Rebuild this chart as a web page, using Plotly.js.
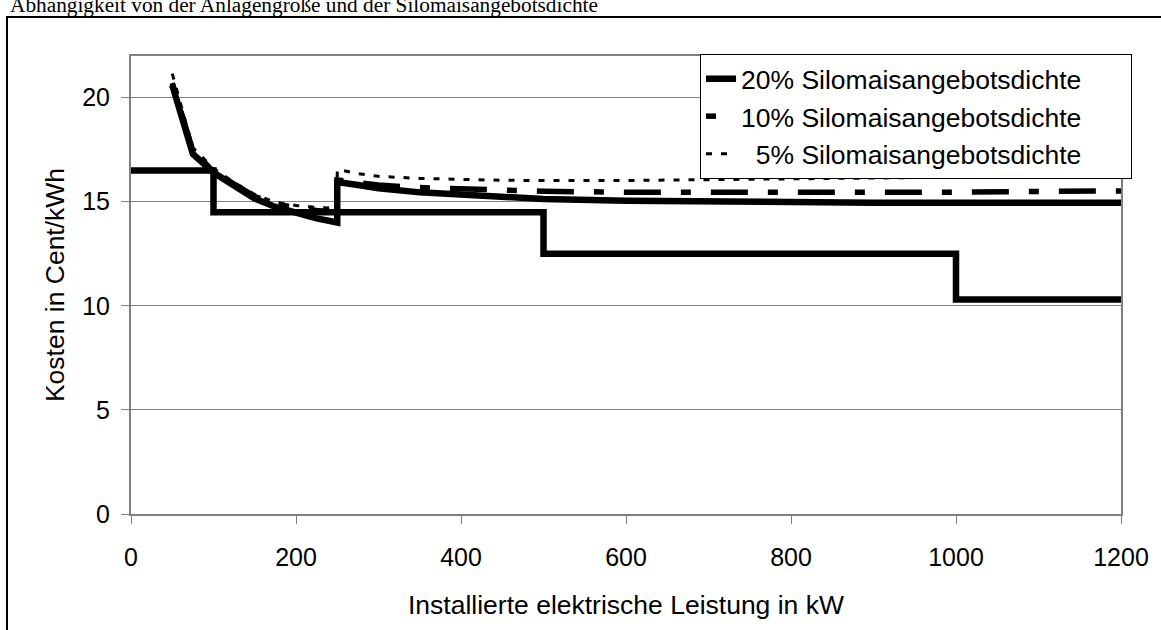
<!DOCTYPE html>
<html>
<head>
<meta charset="utf-8">
<script src="https://cdn.plot.ly/plotly-3.0.1.min.js"></script>
<style>
  html, body { margin: 0; padding: 0; background: #fff; }
  #chart { width: 1161px; height: 630px; }
</style>
</head>
<body>
<div id="chart"></div>
<script>
// Tariff step line (Vergütung)
const xStep = [0, 100, 500, 1000, 1200];
const yStep = [16.5, 14.5, 12.5, 10.3, 10.3];

// Installed electrical power (kW) for cost curves
const xCost = [50, 75, 100, 125, 150, 175, 200, 225, 250, 250, 275, 300, 350, 400, 450, 500, 600, 700, 800, 900, 1000, 1100, 1200];

// Costs in Cent/kWh
const y20 = [20.6, 17.3, 16.4, 15.75, 15.15, 14.75, 14.45, 14.2, 14.0, 15.95, 15.8, 15.65, 15.45, 15.33, 15.22, 15.13, 15.05, 15.0, 14.97, 14.95, 14.95, 14.95, 14.95];
const y10 = [20.7, 17.45, 16.45, 15.85, 15.25, 14.9, 14.7, 14.58, 14.5, 16.05, 15.9, 15.8, 15.68, 15.6, 15.53, 15.5, 15.46, 15.44, 15.43, 15.45, 15.46, 15.48, 15.52];
const y5  = [21.15, 17.6, 16.6, 15.92, 15.35, 14.97, 14.82, 14.73, 14.68, 16.55, 16.35, 16.22, 16.12, 16.06, 16.03, 16.02, 16.02, 16.06, 16.1, 16.15, 16.18, 16.22, 16.26];

const pad = "\u00a0\u00a0\u00a0\u00a0\u00a0\u00a0";
const seriesNames = ["20% Silomaisangebotsdichte" + pad, "10% Silomaisangebotsdichte" + pad, "\u00a0\u00a05% Silomaisangebotsdichte" + pad];

const xTicks = [0, 200, 400, 600, 800, 1000, 1200];
const yTicks = [0, 5, 10, 15, 20];

const titleText = "Abhängigkeit von der Anlagengröße und der Silomaisangebotsdichte";
const xTitle = "Installierte elektrische Leistung in kW";
const yTitle = "Kosten in Cent/kWh";

const W = 1161, H = 630;
const L = 131, R = 40, T = 56, B = 116;
const pw = W - L - R, ph = H - T - B;
const px = v => (v - L) / pw;          // pixel -> paper x
const py = v => (H - B - v) / ph;      // pixel -> paper y

const traces = [
  { x: xCost, y: y5, name: seriesNames[2], mode: "lines", legendrank: 3,
    line: { color: "#000", width: 3, dash: "6px,9px" } },
  { x: xCost, y: y10, name: seriesNames[1], mode: "lines", legendrank: 2,
    line: { color: "#000", width: 5.5, dash: "10px,20px,37px,20px" } },
  { x: xCost, y: y20, name: seriesNames[0], mode: "lines", legendrank: 1,
    line: { color: "#000", width: 6.5 } },
  { x: xStep, y: yStep, mode: "lines", showlegend: false, hoverinfo: "skip",
    line: { color: "#000", width: 6.5, shape: "hv" } }
];

const fam = "Liberation Sans, Arial, sans-serif";
const tickFont = { family: fam, size: 25, color: "#000" };
const textFont = { family: fam, size: 26.5, color: "#000" };

const layout = {
  width: W, height: H,
  margin: { l: L, r: R, t: T, b: B, pad: 0 },
  paper_bgcolor: "#fff", plot_bgcolor: "#fff",
  font: tickFont,
  showlegend: true,
  legend: {
    x: px(700), y: py(54), xanchor: "left", yanchor: "top",
    bgcolor: "#fff", bordercolor: "#000", borderwidth: 1,
    font: textFont, traceorder: "normal", itemwidth: 30
  },
  xaxis: {
    range: [0, 1200], tickvals: xTicks, ticktext: xTicks.map(String),
    showgrid: false, zeroline: false,
    showline: true, linecolor: "#808080", linewidth: 2, mirror: true,
    ticks: "outside", ticklen: 8, tickcolor: "#808080", tickwidth: 1,
    ticklabelstandoff: 12,
    tickfont: tickFont,
    title: { text: xTitle, font: textFont, standoff: 25 },
    automargin: false, fixedrange: true
  },
  yaxis: {
    range: [0, 22], tickvals: yTicks, ticktext: yTicks.map(String),
    showgrid: true, gridcolor: "#808080", gridwidth: 1,
    zeroline: false,
    showline: true, linecolor: "#808080", linewidth: 2, mirror: true,
    ticks: "outside", ticklen: 8, tickcolor: "#808080", tickwidth: 1,
    ticklabelstandoff: 6,
    tickfont: tickFont,
    title: { text: yTitle, font: textFont, standoff: 10 },
    automargin: false, fixedrange: true
  },
  shapes: [
    { type: "rect", xref: "paper", yref: "paper",
      x0: px(7), x1: px(1175), y0: py(645), y1: py(17),
      line: { color: "#000", width: 2 }, fillcolor: "rgba(0,0,0,0)", layer: "above" }
  ],
  annotations: [
    { text: titleText, xref: "paper", yref: "paper", x: px(8), y: py(19),
      xanchor: "left", yanchor: "bottom", showarrow: false,
      font: { family: "Liberation Serif, Times New Roman, serif", size: 21.3, color: "#000" } }
  ]
};

Plotly.newPlot("chart", traces, layout, { displayModeBar: false, staticPlot: true });
</script>
</body>
</html>
